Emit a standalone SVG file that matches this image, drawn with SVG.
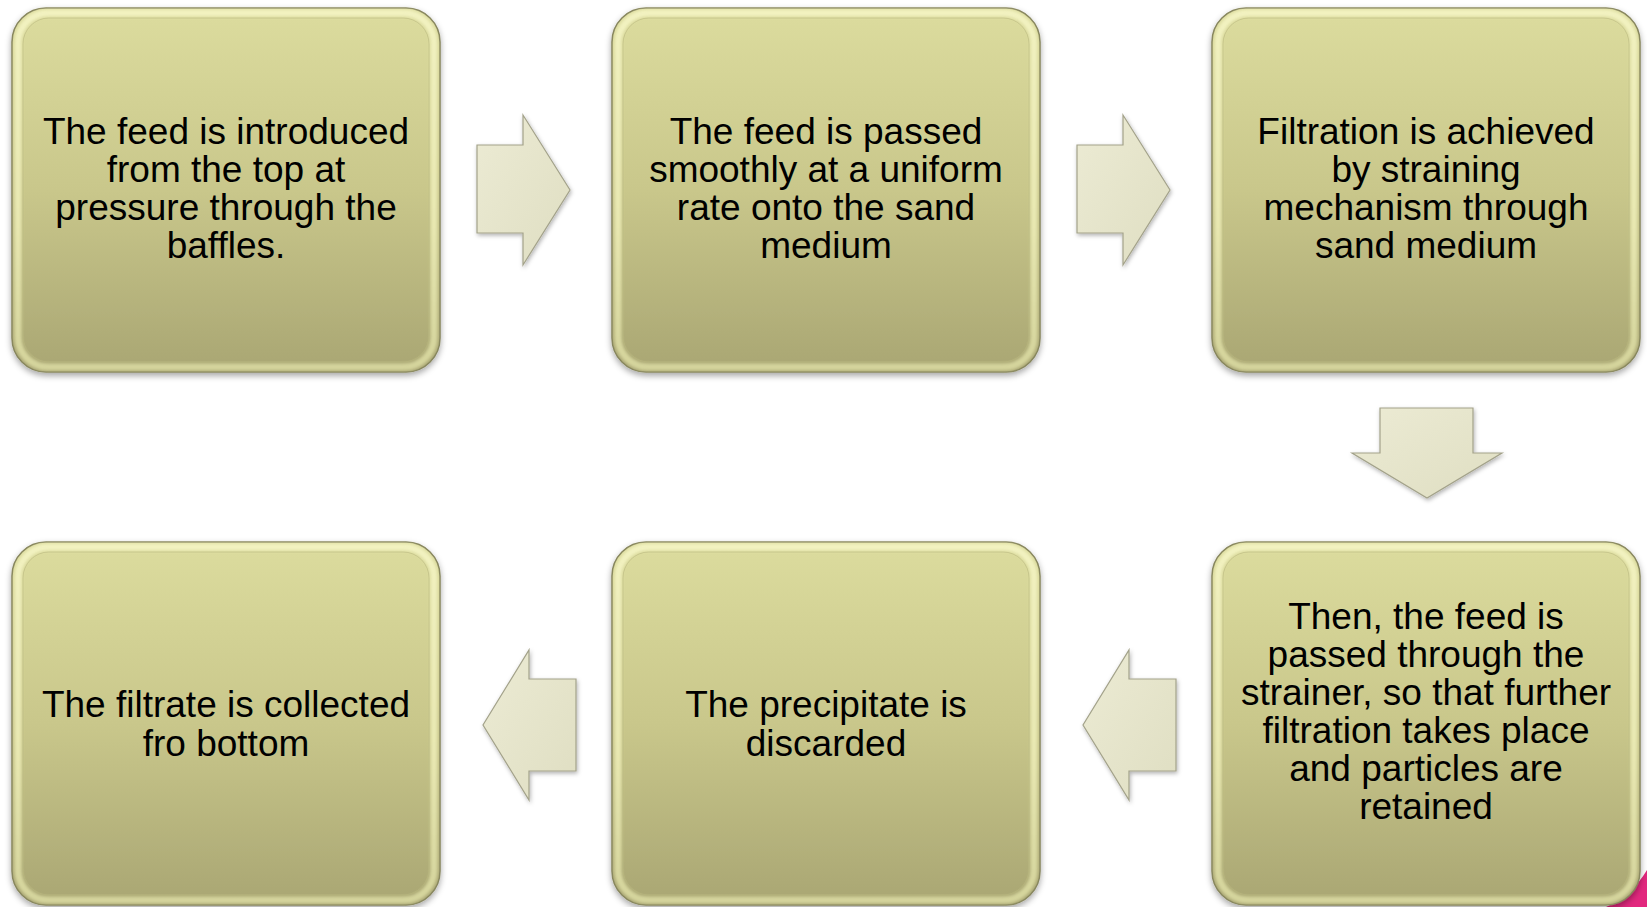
<svg xmlns="http://www.w3.org/2000/svg" width="1647" height="907" viewBox="0 0 1647 907">
<defs>
  <linearGradient id="boxFill" x1="0" y1="0" x2="0" y2="1">
    <stop offset="0" stop-color="#dcdc9e"/>
    <stop offset="0.5" stop-color="#c9c78b"/>
    <stop offset="1" stop-color="#a9a673"/>
  </linearGradient>
  <linearGradient id="bevel" x1="0" y1="0" x2="0" y2="1">
    <stop offset="0" stop-color="#f4f4c4"/>
    <stop offset="0.6" stop-color="#ececb6"/>
    <stop offset="1" stop-color="#d9d9a0"/>
  </linearGradient>
  <linearGradient id="arrowFill" x1="0" y1="0" x2="1" y2="1">
    <stop offset="0" stop-color="#ecebd4"/>
    <stop offset="1" stop-color="#dfdec2"/>
  </linearGradient>
  <filter id="shadow" x="-10%" y="-10%" width="120%" height="120%">
    <feDropShadow dx="0" dy="3" stdDeviation="3" flood-color="#000" flood-opacity="0.35"/>
  </filter>
  <filter id="blur" x="-5%" y="-5%" width="110%" height="110%">
    <feGaussianBlur stdDeviation="1.6"/>
  </filter>
  <filter id="ashadow" x="-20%" y="-20%" width="140%" height="140%">
    <feDropShadow dx="1" dy="2" stdDeviation="2" flood-color="#000" flood-opacity="0.3"/>
  </filter>
</defs>
<style>
  .box { fill: url(#boxFill); stroke: #85845c; stroke-width: 1.5; filter: url(#shadow); }
  .bev { fill: none; stroke: url(#bevel); stroke-width: 7; filter: url(#blur); opacity: 0.9; }
  .bev2 { fill: none; stroke: #b9b77f; stroke-width: 1; opacity: 0.6; }
  .txt { font-family: "Liberation Sans", Arial, sans-serif; font-size: 37px; fill: #000; text-anchor: middle; }
  .arr { fill: url(#arrowFill); stroke: #a3a28a; stroke-width: 1.2; filter: url(#ashadow); }
</style>
<rect width="1647" height="907" fill="#ffffff"/>
<path d="M1647,870 L1647,907 L1606,907 Q1632,895 1647,870 Z" fill="#e2287e"/>

<g id="connectors">
  <polygon class="arr" points="477,145 523,145 523,115 570,190 523,265 523,233 477,233"/>
  <polygon class="arr" points="1077,145 1123,145 1123,115 1170,190 1123,265 1123,233 1077,233"/>
  <polygon class="arr" points="1380,408 1473,408 1473,453 1502,453 1427,498 1352,453 1380,453"/>
  <polygon class="arr" points="1176,679 1129,679 1129,650 1083,725 1129,800 1129,771 1176,771"/>
  <polygon class="arr" points="576,679 529,679 529,650 483,725 529,800 529,771 576,771"/>
</g>

<g id="node1">
  <rect class="box" x="12" y="8" width="428" height="364" rx="34"/>
  <rect class="bev" x="18" y="13" width="416" height="354" rx="30"/>
  <rect class="bev2" x="23" y="18" width="406" height="344" rx="26"/>
  <text class="txt" x="226" y="144">The feed is introduced</text>
  <text class="txt" x="226" y="182">from the top at</text>
  <text class="txt" x="226" y="220">pressure through the</text>
  <text class="txt" x="226" y="258">baffles.</text>
</g>
<g id="node2">
  <rect class="box" x="612" y="8" width="428" height="364" rx="34"/>
  <rect class="bev" x="618" y="13" width="416" height="354" rx="30"/>
  <rect class="bev2" x="623" y="18" width="406" height="344" rx="26"/>
  <text class="txt" x="826" y="144">The feed is passed</text>
  <text class="txt" x="826" y="182">smoothly at a uniform</text>
  <text class="txt" x="826" y="220">rate onto the sand</text>
  <text class="txt" x="826" y="258">medium</text>
</g>
<g id="node3">
  <rect class="box" x="1212" y="8" width="428" height="364" rx="34"/>
  <rect class="bev" x="1218" y="13" width="416" height="354" rx="30"/>
  <rect class="bev2" x="1223" y="18" width="406" height="344" rx="26"/>
  <text class="txt" x="1426" y="144">Filtration is achieved</text>
  <text class="txt" x="1426" y="182">by straining</text>
  <text class="txt" x="1426" y="220">mechanism through</text>
  <text class="txt" x="1426" y="258">sand medium</text>
</g>
<g id="node4">
  <rect class="box" x="1212" y="542" width="428" height="363" rx="34"/>
  <rect class="bev" x="1218" y="547" width="416" height="353" rx="30"/>
  <rect class="bev2" x="1223" y="552" width="406" height="343" rx="26"/>
  <text class="txt" x="1426" y="629">Then, the feed is</text>
  <text class="txt" x="1426" y="667">passed through the</text>
  <text class="txt" x="1426" y="705">strainer, so that further</text>
  <text class="txt" x="1426" y="743">filtration takes place</text>
  <text class="txt" x="1426" y="781">and particles are</text>
  <text class="txt" x="1426" y="819">retained</text>
</g>
<g id="node5">
  <rect class="box" x="612" y="542" width="428" height="363" rx="34"/>
  <rect class="bev" x="618" y="547" width="416" height="353" rx="30"/>
  <rect class="bev2" x="623" y="552" width="406" height="343" rx="26"/>
  <text class="txt" x="826" y="717">The precipitate is</text>
  <text class="txt" x="826" y="756">discarded</text>
</g>
<g id="node6">
  <rect class="box" x="12" y="542" width="428" height="363" rx="34"/>
  <rect class="bev" x="18" y="547" width="416" height="353" rx="30"/>
  <rect class="bev2" x="23" y="552" width="406" height="343" rx="26"/>
  <text class="txt" x="226" y="717">The filtrate is collected</text>
  <text class="txt" x="226" y="756">fro bottom</text>
</g>
</svg>
